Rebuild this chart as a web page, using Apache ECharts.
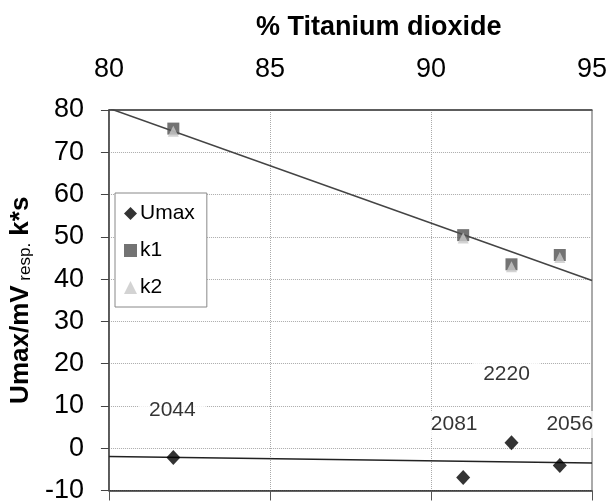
<!DOCTYPE html>
<html>
<head>
<meta charset="utf-8">
<script src="https://cdn.jsdelivr.net/npm/echarts@6/dist/echarts.min.js"></script>
<style>
  html, body { margin: 0; padding: 0; background: #fff; }
  #chart { width: 611px; height: 504px; }
</style>
</head>
<body>
<div id="chart"></div>
<script>
// Composition (% TiO2) of the measured samples
const titania = [82, 91, 92.5, 94];
// Series values
const umax = [-2.2, -6.9, 1.3, -4.1];
const k1 = [75.6, 50.4, 43.5, 45.7];
const k2 = [75.0, 49.7, 42.9, 45.1];
// Umax readings shown as data labels
const umaxLabels = ['2044', '2081', '2220', '2056'];
// Linear trend lines, evaluated at the ends of the x range
const trendX = [80, 95];
const kTrend = [80.4, 39.7];
const umaxTrend = [-1.95, -3.5];
// Axis ticks
const xTicks = [80, 85, 90, 95];
const yTicks = [-10, 0, 10, 20, 30, 40, 50, 60, 70, 80];

// Label placement relative to each Umax marker (px)
const labelOffsets = [[-1, -47], [-9, -53], [-5, -69], [10, -41]];

const FONT = '"Liberation Sans", Arial, sans-serif';
const chart = echarts.init(document.getElementById('chart'), null, { renderer: 'canvas' });

const pairs = (xs, ys) => xs.map((x, i) => [x, ys[i]]);

chart.setOption({
  animation: false,
  backgroundColor: '#ffffff',
  title: {
    text: '% Titanium dioxide',
    left: 251,
    top: 9,
    textStyle: { fontFamily: FONT, fontSize: 27, fontWeight: 'bold', color: '#000' }
  },
  legend: {
    orient: 'vertical',
    left: 115,
    top: 193,
    padding: [10, 12, 9, 9],
    itemGap: 16,
    itemWidth: 13,
    itemHeight: 13,
    backgroundColor: '#ffffff',
    borderColor: '#888',
    borderWidth: 1,
    borderRadius: 0,
    data: ['Umax', 'k1', 'k2'],
    textStyle: { fontFamily: FONT, fontSize: 21, color: '#000', padding: [0, 0, 0, -2] }
  },
  grid: {
    left: 102, right: 19, top: 110, bottom: 9,
    show: true, borderColor: '#555', borderWidth: 1, backgroundColor: 'transparent'
  },
  xAxis: [
    {
      type: 'value', position: 'top', min: xTicks[0], max: xTicks[xTicks.length - 1], interval: 5,
      axisLine: { show: true, onZero: false, lineStyle: { color: '#444', width: 1.5 } },
      axisTick: { show: false },
      axisLabel: { fontFamily: FONT, fontSize: 27, color: '#000', margin: 27 },
      splitLine: { show: true, lineStyle: { color: '#aaa', type: 'dotted', width: 1 } }
    },
    {
      type: 'value', position: 'bottom', min: xTicks[0], max: xTicks[xTicks.length - 1], interval: 5,
      axisLine: { show: true, onZero: false, lineStyle: { color: '#333', width: 1.5 } },
      axisTick: { show: true, inside: false, length: 10, lineStyle: { color: '#555', width: 1 } },
      axisLabel: { show: false },
      splitLine: { show: false }
    }
  ],
  yAxis: {
    type: 'value', min: yTicks[0], max: yTicks[yTicks.length - 1], interval: 10,
    name: '{b|Umax/mV}{s| resp.}{b| k*s}',
    nameLocation: 'middle',
    nameRotate: 90,
    nameGap: 60,
    nameTextStyle: {
      rich: {
        b: { fontFamily: FONT, fontSize: 26, fontWeight: 'bold', color: '#000' },
        s: { fontFamily: FONT, fontSize: 17, color: '#000', verticalAlign: 'bottom' }
      }
    },
    axisLine: { show: true, onZero: false, lineStyle: { color: '#444', width: 1.5 } },
    axisTick: { show: true, inside: false, length: 8, lineStyle: { color: '#444', width: 1 } },
    axisLabel: { fontFamily: FONT, fontSize: 27, color: '#000', margin: 25 },
    splitLine: { show: true, lineStyle: { color: '#aaa', type: 'dotted', width: 1 } }
  },
  series: [
    {
      name: 'k trend', type: 'line', data: pairs(trendX, kTrend),
      symbol: 'none', silent: true, clip: true,
      lineStyle: { color: '#444', width: 1.6 }, z: 3
    },
    {
      name: 'Umax trend', type: 'line', data: pairs(trendX, umaxTrend),
      symbol: 'none', silent: true, clip: true,
      lineStyle: { color: '#222', width: 1.6 }, z: 3
    },
    {
      name: 'Umax', type: 'scatter', symbol: 'diamond', symbolSize: [14, 15],
      itemStyle: { color: '#000' },
      data: titania.map((x, i) => ({
        value: [x, umax[i]],
        label: { offset: labelOffsets[i] }
      })),
      label: {
        show: true, position: 'inside',
        formatter: p => umaxLabels[p.dataIndex],
        fontFamily: FONT, fontSize: 21, color: '#000',
        textBorderWidth: 0,
        backgroundColor: '#ffffff', padding: [3, 10]
      },
      z: 4
    },
    {
      name: 'k1', type: 'scatter', symbol: 'rect', symbolSize: 12,
      itemStyle: { color: '#505050' },
      data: pairs(titania, k1), z: 5
    },
    {
      name: 'k2', type: 'scatter', symbol: 'triangle', symbolSize: 11,
      itemStyle: { color: '#c8c8c8' },
      data: pairs(titania, k2), z: 6
    }
  ]
});
</script>
</body>
</html>
